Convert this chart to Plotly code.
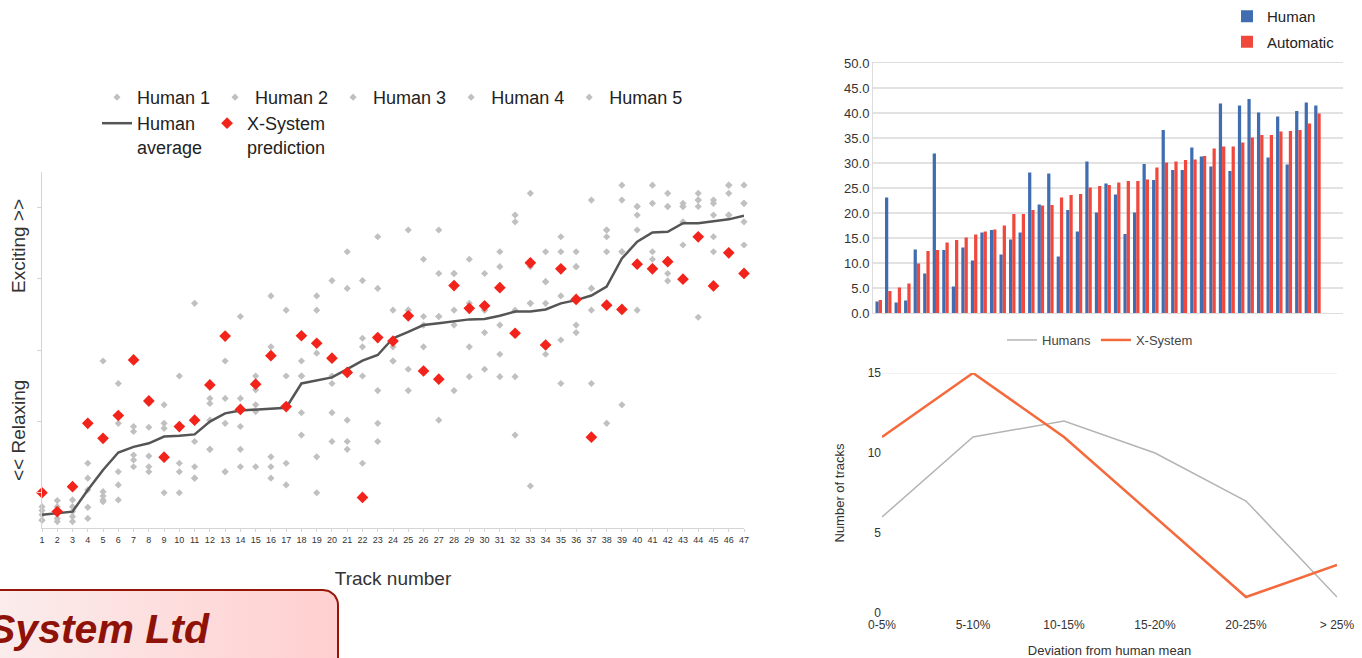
import math
import plotly.graph_objects as go

W, H = 1362, 658


def fx(p):
    return p / W


def fy(p):
    return 1 - p / H


FONT = "Liberation Sans, Arial, sans-serif"

# ---------------- data: left chart (ratings per track) ----------------
tracks = list(range(1, 48))

human1 = [0.60, 0.77, 0.79, 1.82, 4.69, 4.06, 2.85, 3.50, 3.46, 4.27, 6.31, 3.64, 4.69, 5.94, 4.27, 6.52,
          6.12, 4.69, 6.52, 6.95, 7.76, 6.95, 8.18, 6.12, 8.37, 7.55, 8.37, 7.15, 7.55, 7.15, 7.76, 8.79,
          9.40, 7.76, 8.18, 7.76, 9.21, 8.37, 9.63, 9.03, 9.63, 9.40, 9.12, 9.40, 9.21, 9.63, 9.63]
human2 = [0.49, 0.60, 0.60, 1.40, 1.02, 2.94, 2.71, 2.83, 2.94, 2.85, 2.43, 3.50, 3.64, 3.64, 3.88, 5.09,
          4.27, 4.27, 6.12, 4.27, 6.73, 5.33, 6.73, 5.23, 6.12, 5.94, 7.15, 6.12, 6.31, 6.12, 7.34, 8.60,
          7.34, 6.92, 7.76, 7.34, 6.73, 8.18, 9.21, 8.79, 9.12, 9.03, 9.03, 9.21, 9.12, 9.40, 9.12]
human3 = [0.37, 0.41, 0.46, 1.07, 0.90, 1.58, 2.05, 2.02, 2.80, 1.82, 1.72, 3.03, 2.94, 2.85, 3.46, 2.00,
          3.41, 3.24, 4.91, 4.06, 3.03, 5.09, 3.86, 5.09, 4.46, 5.70, 5.94, 5.70, 6.12, 5.49, 5.70, 6.12,
          6.31, 6.31, 6.52, 5.70, 6.12, 7.76, 7.76, 8.37, 7.76, 7.15, 8.60, 9.03, 8.79, 8.79, 8.60]
human4 = [0.22, 0.27, 0.32, 0.58, 0.79, 1.21, 1.91, 1.72, 1.99, 1.58, 1.40, 2.21, 1.58, 2.21, 3.27, 1.72,
          1.82, 2.61, 2.00, 3.24, 2.43, 4.27, 2.94, 4.69, 3.86, 5.09, 3.03, 3.86, 5.09, 4.46, 4.88, 4.25,
          1.18, 4.88, 5.28, 5.49, 4.06, 2.94, 3.46, 6.12, 7.55, 6.94, 7.95, 5.92, 8.18, 8.79, 7.95]
human5 = [0.22, 0.18, 0.18, 0.27, 0.74, 0.79, 1.72, 1.58, 0.99, 0.99, 1.40, 2.21, 1.58, 1.72, 1.72, 1.40,
          1.21, 4.27, 0.99, 2.43, 2.21, 1.82, 2.43, 4.69, 6.12, 4.46, 5.94, 7.15, 4.25, 6.12, 4.25, 2.61,
          6.31, 6.92, 4.06, 7.34, 6.73, 8.37, 7.76, 9.03, 7.34, 9.03, 9.03, 9.21, 7.76, 9.63, 9.12]
human_average = [0.37, 0.41, 0.46, 1.07, 1.63, 2.12, 2.28, 2.38, 2.57, 2.59, 2.63, 2.99, 3.22, 3.30, 3.33,
                 3.36, 3.38, 4.06, 4.14, 4.23, 4.46, 4.70, 4.86, 5.33, 5.51, 5.70, 5.75, 5.80, 5.86, 5.87,
                 5.96, 6.08, 6.08, 6.14, 6.31, 6.40, 6.53, 6.78, 7.57, 8.04, 8.30, 8.32, 8.56, 8.56, 8.62,
                 8.67, 8.77]
xsystem_prediction = [0.99, 0.46, 1.16, 2.94, 2.52, 3.16, 4.72, 3.57, 1.99, 2.85, 3.03, 4.02, 5.39, 3.33,
                      4.04, 4.84, 3.41, 5.40, 5.19, 4.77, 4.37, 0.86, 5.35, 5.25, 5.96, 4.41, 4.18, 6.81,
                      6.17, 6.24, 6.75, 5.47, 7.45, 5.14, 7.28, 6.42, 2.55, 6.26, 6.14, 7.41, 7.28, 7.48,
                      6.99, 8.18, 6.80, 7.73, 7.15]
human_names = ["Human 1", "Human 2", "Human 3", "Human 4", "Human 5"]

# ---------------- data: top-right bar chart ----------------
bar_human = [2.3, 23.1, 2.1, 2.5, 12.7, 7.9, 31.9, 12.6, 5.3, 13.1, 10.5, 16.1, 16.6, 11.7, 14.7, 16.1,
             28.1, 21.7, 27.9, 11.3, 20.6, 16.3, 30.3, 20.1, 25.9, 23.7, 15.8, 20.1, 29.8, 26.6, 36.6,
             28.6, 28.6, 33.1, 31.3, 29.3, 41.9, 28.4, 41.5, 42.8, 40.1, 31.1, 39.3, 29.7, 40.4, 42.1, 41.5]
bar_automatic = [2.6, 4.4, 5.1, 5.9, 9.9, 12.4, 12.6, 14.1, 14.6, 15.1, 15.7, 16.3, 16.7, 17.5, 19.8,
                 19.8, 20.6, 21.5, 21.6, 23.1, 23.6, 23.8, 25.1, 25.4, 25.6, 26.1, 26.4, 26.4, 26.7, 29.1,
                 30.1, 30.3, 30.6, 30.7, 31.4, 32.9, 33.3, 33.3, 34.1, 35.1, 35.6, 35.6, 36.3, 36.4, 36.6,
                 37.9, 39.9]

# ---------------- data: bottom-right line chart ----------------
deviation_bins = ["0-5%", "5-10%", "10-15%", "15-20%", "20-25%", "> 25%"]
dev_humans = [6, 11, 12, 10, 7, 1]
dev_xsystem = [11, 15, 11, 6, 1, 3]

fig = go.Figure()

# ---- left chart
for name, vals in zip(human_names, [human1, human2, human3, human4, human5]):
    fig.add_trace(go.Scatter(
        x=tracks, y=vals, name=name, mode="markers", xaxis="x", yaxis="y",
        marker=dict(symbol="diamond", size=5.5, color="#c0c0c0"),
        cliponaxis=False, legend="legend", hoverinfo="skip"))
fig.add_trace(go.Scatter(
    x=tracks, y=human_average, name="Human<br>average", mode="lines", xaxis="x", yaxis="y",
    line=dict(color="#555555", width=2.5), legend="legend2"))
fig.add_trace(go.Scatter(
    x=tracks, y=xsystem_prediction, name="X-System<br>prediction", mode="markers", xaxis="x", yaxis="y",
    marker=dict(symbol="diamond", size=9, color="#f2231a"), cliponaxis=False, legend="legend2"))

# ---- bar chart
fig.add_trace(go.Bar(x=tracks, y=bar_human, name="Human", xaxis="x2", yaxis="y2",
                     marker=dict(color="#3f6db0", line=dict(width=0)), legend="legend3",
                     legendgroup="h"))
fig.add_trace(go.Bar(x=tracks, y=bar_automatic, name="Automatic", xaxis="x2", yaxis="y2",
                     marker=dict(color="#f0483c", line=dict(width=0)), legend="legend3",
                     legendgroup="a"))

# ---- line chart
fig.add_trace(go.Scatter(x=deviation_bins, y=dev_humans, name="Humans", mode="lines",
                         xaxis="x3", yaxis="y3", line=dict(color="#b4b4b4", width=1.5),
                         legend="legend4"))
fig.add_trace(go.Scatter(x=deviation_bins, y=dev_xsystem, name="X-System", mode="lines",
                         xaxis="x3", yaxis="y3", line=dict(color="#f46a3c", width=2.5),
                         legend="legend4"))

# ---- company banner (gradient panel on a full-page pixel overlay)
bl, br, bt, bb, rad = -12, 338, 590, 672, 15
bx = [bl, bl, br - rad]
by = [bb, bt, bt]
for k in range(1, 11):
    a = -math.pi / 2 + k * (math.pi / 2) / 10
    bx.append(br - rad + rad * math.cos(a))
    by.append(bt + rad + rad * math.sin(a))
bx += [br, bl]
by += [bb, bb]
fig.add_trace(go.Scatter(x=bx, y=by, mode="lines", fill="toself", xaxis="x4", yaxis="y4",
                         line=dict(color="#961608", width=2),
                         fillgradient=dict(type="horizontal",
                                           colorscale=[[0, "#fbeded"], [1, "#ffcfcf"]]),
                         showlegend=False, hoverinfo="skip"))

axis_font = dict(family=FONT, color="#333333")

fig.update_layout(
    width=W, height=H, margin=dict(l=0, r=0, t=0, b=0, autoexpand=False),
    paper_bgcolor="white", plot_bgcolor="rgba(0,0,0,0)",
    font=dict(family=FONT, color="#222222"),
    barmode="group", bargap=0.32, bargroupgap=0.0,
    xaxis=dict(domain=[fx(42), fx(744)], range=[1, 47], anchor="y",
               tickmode="linear", tick0=1, dtick=1, showgrid=False, zeroline=False,
               showline=True, linecolor="#d4d4d4", linewidth=1,
               ticks="outside", ticklen=3, tickcolor="#d4d4d4",
               tickfont=dict(size=9, **axis_font),
               title=dict(text="Track number", font=dict(size=19, **axis_font), standoff=27)),
    yaxis=dict(domain=[fy(528), fy(172)], range=[0, 10], anchor="x",
               showgrid=False, zeroline=False, showline=True, linecolor="#d4d4d4",
               ticks="outside", ticklen=4, tickcolor="#d4d4d4", tick0=1, dtick=2,
               showticklabels=False),
    xaxis2=dict(domain=[fx(873), fx(1343)], range=[0.4, 49.68], anchor="y2",
                showgrid=False, zeroline=False, showticklabels=False,
                showline=True, linecolor="#dcdcdc", mirror=True),
    yaxis2=dict(domain=[fy(313), fy(63)], range=[0, 50], anchor="x2", dtick=5,
                tickformat=".1f", showgrid=True, gridcolor="#e2e2e2", gridwidth=1.5,
                zeroline=False, showline=True, linecolor="#dcdcdc",
                tickfont=dict(size=13, **axis_font), ticks=""),
    xaxis3=dict(domain=[fx(882), fx(1337)], range=[0, 5], anchor="y3",
                showgrid=False, zeroline=False, showline=False, ticks="",
                tickfont=dict(size=12, **axis_font), ticklabelstandoff=3,
                title=dict(text="Deviation from human mean", font=dict(size=13, **axis_font),
                           standoff=16)),
    yaxis3=dict(domain=[fy(613), fy(373)], range=[0, 15], anchor="x3", tickvals=[0, 5, 10, 15],
                showgrid=False, zeroline=False, showline=False, ticks="",
                tickfont=dict(size=12, **axis_font),
                title=dict(text="Number of tracks", font=dict(size=13, **axis_font), standoff=20)),
    xaxis4=dict(domain=[0, 1], range=[0, W], anchor="y4", visible=False, fixedrange=True),
    yaxis4=dict(domain=[0, 1], range=[H, 0], anchor="x4", visible=False, fixedrange=True),
    legend=dict(orientation="h", x=fx(97), y=fy(79), xanchor="left", yanchor="top",
                font=dict(size=18, family=FONT, color="#222222"),
                bgcolor="rgba(0,0,0,0)"),
    legend2=dict(orientation="h", x=fx(97), y=fy(105), xanchor="left", yanchor="top",
                 font=dict(size=18, family=FONT, color="#222222"), valign="top",
                 bgcolor="rgba(0,0,0,0)"),
    legend3=dict(orientation="v", x=fx(1227), y=fy(0), xanchor="left", yanchor="top",
                 font=dict(size=15, family=FONT, color="#222222"), tracegroupgap=3,
                 bgcolor="rgba(0,0,0,0)"),
    legend4=dict(orientation="h", x=fx(1100), y=fy(325), xanchor="center", yanchor="top",
                 font=dict(size=13, family=FONT, color="#444444"), bgcolor="rgba(0,0,0,0)"),
)

# left chart side labels
fig.add_annotation(text="Exciting >>", x=fx(18), y=fy(246), xref="paper", yref="paper",
                   xanchor="center", yanchor="middle", textangle=-90, showarrow=False,
                   font=dict(size=19, family=FONT, color="#333333"))
fig.add_annotation(text="<< Relaxing", x=fx(18), y=fy(431), xref="paper", yref="paper",
                   xanchor="center", yanchor="middle", textangle=-90, showarrow=False,
                   font=dict(size=19, family=FONT, color="#333333"))

# faint top gridline of the line chart
fig.add_shape(type="line", xref="x3 domain", yref="y3", x0=0, x1=1, y0=15, y1=15,
              line=dict(color="#e6e6e6", width=1), layer="below")

# company name (partially off the left edge, as in the reference)
fig.add_annotation(text="<b><i>X-System Ltd</i></b>", x=fx(212), y=fy(629), xref="paper",
                   yref="paper", xanchor="right", yanchor="middle", showarrow=False,
                   font=dict(size=41, family=FONT, color="#8e1207"))

fig.write_html("out.html")
